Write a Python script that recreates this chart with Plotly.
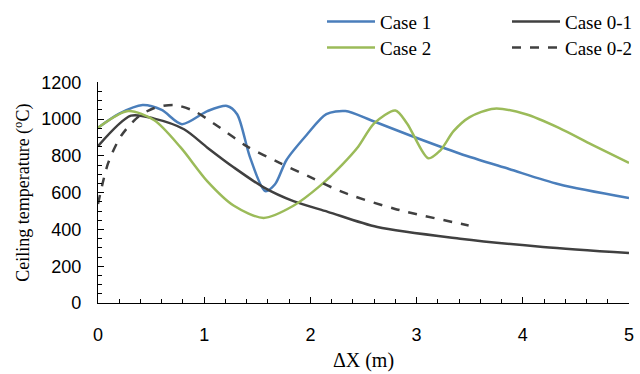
import plotly.graph_objects as go

# Case 1 (blue)
c1_x = [0, 0.2, 0.42, 0.6, 0.79, 1.03, 1.215, 1.31, 1.43, 1.574, 1.667, 1.775, 1.96, 2.15, 2.33, 2.57, 2.94, 3.41, 3.87, 4.34, 5.0]
c1_y = [953, 1030, 1077, 1050, 973, 1044, 1072, 1027, 795, 609, 646, 778, 911, 1027, 1044, 994, 911, 812, 729, 646, 571]
# Case 2 (green)
c2_x = [0, 0.283, 0.53, 0.78, 1.03, 1.28, 1.56, 1.84, 2.09, 2.30, 2.45, 2.60, 2.80, 2.91, 3.11, 3.22, 3.35, 3.50, 3.73, 4.03, 4.34, 4.65, 5.0]
c2_y = [953, 1044, 994, 845, 662, 529, 463, 529, 637, 753, 850, 977, 1047, 977, 787, 828, 936, 1011, 1057, 1027, 953, 862, 762]
# Case 0-1 (dark solid)
c01_x = [0, 0.31, 0.53, 0.81, 1.03, 1.28, 1.56, 1.84, 2.164, 2.63, 3.41, 4.19, 5.0]
c01_y = [853, 1019, 1003, 945, 845, 737, 629, 554, 496, 413, 350, 305, 272]
# Case 0-2 (dashed)
c02_x = [0, 0.096, 0.22, 0.376, 0.53, 0.72, 0.905, 1.15, 1.40, 1.71, 1.99, 2.30, 2.79, 3.49]
c02_y = [538, 762, 911, 1011, 1061, 1077, 1044, 953, 853, 762, 687, 604, 513, 422]

x_ticks = [0, 1, 2, 3, 4, 5]
y_ticks = [0, 200, 400, 600, 800, 1000, 1200]

fig = go.Figure()
fig.add_trace(go.Scatter(x=c1_x, y=c1_y, name="Case 1", mode="lines",
                         line=dict(color="#4A7EBB", width=2.5, shape="spline", smoothing=0.8),
                         legend="legend"))
fig.add_trace(go.Scatter(x=c01_x, y=c01_y, name="Case 0-1", mode="lines",
                         line=dict(color="#404040", width=2.5, shape="spline", smoothing=0.8),
                         legend="legend"))
fig.add_trace(go.Scatter(x=c2_x, y=c2_y, name="Case 2", mode="lines",
                         line=dict(color="#9BBB59", width=2.5, shape="spline", smoothing=0.8),
                         legend="legend2"))
fig.add_trace(go.Scatter(x=c02_x, y=c02_y, name="Case 0-2", mode="lines",
                         line=dict(color="#404040", width=2.5, dash="dash", shape="spline", smoothing=0.8),
                         legend="legend2"))

leg_common = dict(orientation="h", xref="container", yref="container",
                  xanchor="left", yanchor="middle", entrywidth=122, entrywidthmode="pixels",
                  font=dict(family="Liberation Serif", size=19, color="#000"),
                  bgcolor="rgba(0,0,0,0)", itemwidth=48, tracegroupgap=0)

fig.update_layout(
    width=640, height=374,
    margin=dict(l=98, r=6, t=62, b=71),
    paper_bgcolor="white", plot_bgcolor="white",
    showlegend=True,
    legend=dict(x=322 / 640, y=1 - 21.7 / 374, **leg_common),
    legend2=dict(x=322 / 640, y=1 - 47.7 / 374, **leg_common),
    xaxis=dict(range=[0, 5], tickvals=x_ticks, showgrid=False, zeroline=False,
               showline=True, linecolor="#000", linewidth=1.2,
               ticks="inside", ticklen=6, tickcolor="#000",
               minor=dict(dtick=0.2, ticks="inside", ticklen=4, tickcolor="#000"),
               ticklabelstandoff=15,
               tickfont=dict(family="Liberation Sans", size=18, color="#000"),
               title=dict(text="ΔX (m)", font=dict(family="Liberation Serif", size=20, color="#000"), standoff=9)),
    yaxis=dict(range=[0, 1200], tickvals=y_ticks, showgrid=False, zeroline=False,
               showline=True, linecolor="#000", linewidth=1.2,
               ticks="inside", ticklen=6, tickcolor="#000",
               minor=dict(dtick=50, ticks="inside", ticklen=4, tickcolor="#000"),
               ticklabelstandoff=12,
               tickfont=dict(family="Liberation Sans", size=18, color="#000"),
               title=dict(text="Ceiling temperature (<sup>o</sup>C)",
                          font=dict(family="Liberation Serif", size=18, color="#000"), standoff=6)),
)

fig.write_html("out.html")
